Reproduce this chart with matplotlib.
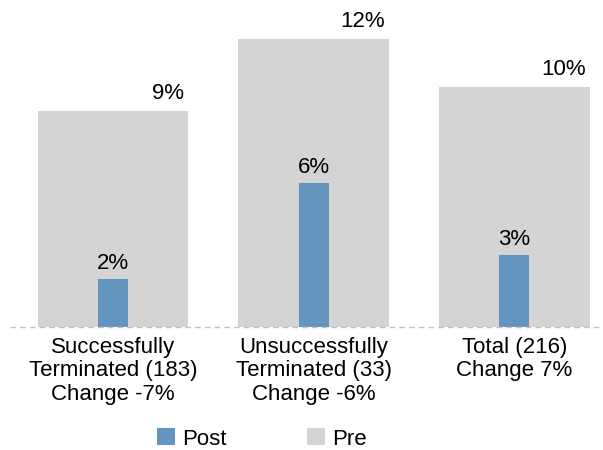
import matplotlib
matplotlib.use("Agg")
import matplotlib.pyplot as plt
import numpy as np

plt.rcParams['font.family'] = ['Liberation Sans', 'DejaVu Sans']

categories = ["Successfully\nTerminated (183)\nChange -7%",
              "Unsuccessfully\nTerminated (33)\nChange -6%",
              "Total (216)\nChange 7%"]
pre = [9, 12, 10]
post = [2, 6, 3]

pre_color = "#d4d4d4"
post_color = "#6495bf"
fs = 16

fig = plt.figure(figsize=(6.03, 4.5), dpi=100)
ax = fig.add_axes([10/603, 123/450, 590/603, 327/450])

x = np.arange(len(categories))
ax.bar(x, pre, width=0.75, color=pre_color, label="Pre", zorder=1)
ax.bar(x, post, width=0.15, color=post_color, label="Post", zorder=2)

for xi, v in zip(x, pre):
    ax.text(xi + 0.355, v + 0.3, f"{v}%", ha="right", va="bottom", fontsize=fs)
for xi, v in zip(x, post):
    ax.text(xi, v + 0.2, f"{v}%", ha="center", va="bottom", fontsize=fs)

ax.set_xlim(-0.513, 2.427)
ax.set_ylim(0, 327/24)
ax.axhline(0, color="#c0c0c0", lw=1, ls=(0, (4, 3)), zorder=3, clip_on=False)

for s in ax.spines.values():
    s.set_visible(False)
ax.set_yticks([])
ax.set_xticks(x)
ax.set_xticklabels(categories, fontsize=fs, linespacing=1.17)
ax.tick_params(axis="x", length=0, pad=7)

handles, labels = ax.get_legend_handles_labels()
order = [1, 0]
fig.legend([handles[i] for i in order], [labels[i] for i in order],
           loc="center", bbox_to_anchor=(262/603, 1 - 439/450), ncol=2,
           frameon=False, fontsize=fs, handlelength=0.8, handleheight=0.8,
           columnspacing=3.65, handletextpad=0.3)

fig.savefig("out.png", dpi=100)
